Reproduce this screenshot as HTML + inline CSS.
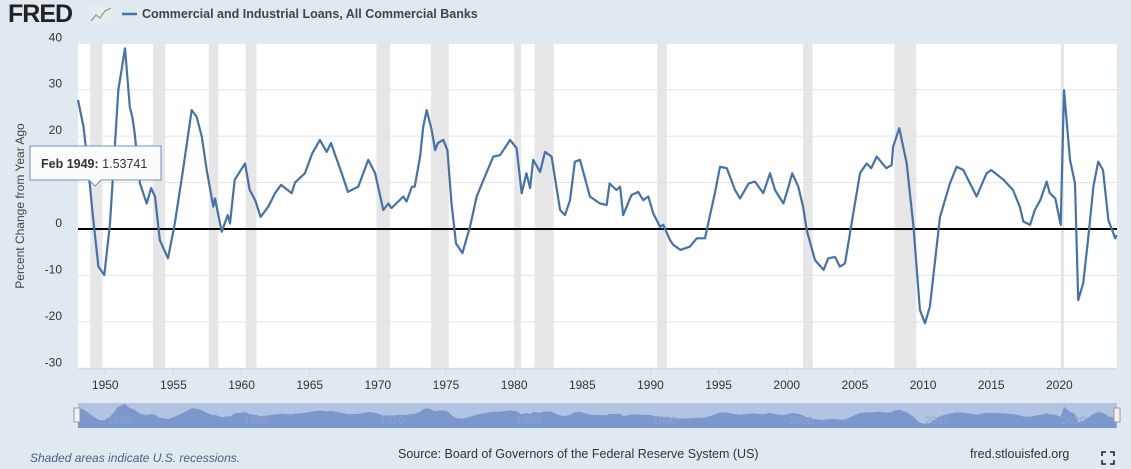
<!DOCTYPE html>
<html><head><meta charset="utf-8">
<style>
html,body{margin:0;padding:0;}
body{width:1131px;height:469px;background:#e1e9f0;font-family:"Liberation Sans",sans-serif;position:relative;overflow:hidden;}
svg{position:absolute;left:0;top:0;}
</style></head><body>
<svg width="1131" height="469" xmlns="http://www.w3.org/2000/svg">
  <g>
    <text x="8" y="22" font-size="25" font-weight="bold" fill="#222" font-family="Liberation Sans, sans-serif" letter-spacing="-1">FRED</text>
    <rect x="89" y="6" width="24" height="17" fill="#e9ecef"/>
    <polyline points="91,21 96,15 100,18 105,11 111,8" fill="none" stroke="#8fb08a" stroke-width="1.5"/>
    <line x1="122" y1="14" x2="137" y2="14" stroke="#4572a7" stroke-width="2.5"/>
    <text x="142" y="18" font-size="12.5" font-weight="bold" fill="#444">Commercial and Industrial Loans, All Commercial Banks</text>
  </g>
  <rect x="78" y="43" width="1039" height="326" fill="#ffffff"/>
  <g id="rec"></g>
  <g id="grid"></g>
  <g id="yt"></g>
  <g id="xt"></g>
  <text transform="translate(24,206) rotate(-90)" text-anchor="middle" font-size="12" fill="#444">Percent Change from Year Ago</text>
  <line x1="78" y1="229" x2="1117" y2="229" stroke="#000" stroke-width="2"/>
  <path id="series" fill="none" stroke="#4572a7" stroke-width="2.2" stroke-linejoin="round"/>
  <g>
    <rect x="78" y="403" width="1039" height="25" fill="#b3c4e3"/>
    <path id="navArea" fill="#7b98cc"/>
    <g id="navLbl"></g>
    <rect x="74" y="408" width="6" height="14" fill="#f2f2f2" stroke="#999"/>
    <rect x="1114" y="408" width="6" height="14" fill="#f2f2f2" stroke="#999"/>
  </g>
  <g>
    <path d="M30,146 H161 V180 H101 L95,186 L89,180 H30 Z" fill="#fafcfe" stroke="#6d8fc0" stroke-width="1"/>
    <text x="41" y="168" font-size="12.5" fill="#333"><tspan font-weight="bold">Feb 1949:</tspan> 1.53741</text>
  </g>
  <text x="30" y="462" font-size="12" font-style="italic" fill="#4a5f80">Shaded areas indicate U.S. recessions.</text>
  <text x="398" y="458" font-size="12.5" fill="#333">Source: Board of Governors of the Federal Reserve System (US)</text>
  <text x="970" y="458" font-size="12.5" fill="#333">fred.stlouisfed.org</text>
  <g stroke="#222" stroke-width="1.6" fill="none">
    <path d="M1102,456 V452 H1106 M1110,452 H1114 V456 M1114,460 V464 H1110 M1106,464 H1102 V460"/>
  </g>
</svg>
<script>
const years=[1948.0,1948.4,1948.76,1949.1,1949.5,1949.93,1950.35,1950.7,1950.96,1951.45,1951.8,1951.98,1952.13,1952.55,1953.04,1953.36,1953.65,1954.0,1954.6,1955.1,1955.7,1956.34,1956.7,1957.08,1957.44,1957.93,1958.05,1958.54,1958.98,1959.15,1959.5,1960.25,1960.6,1961.0,1961.4,1961.96,1962.45,1962.9,1963.68,1963.92,1964.65,1965.19,1965.75,1966.25,1966.56,1967.35,1967.8,1968.56,1969.3,1969.8,1970.4,1970.77,1971.0,1971.87,1972.1,1972.5,1972.7,1973.1,1973.33,1973.58,1973.95,1974.2,1974.4,1974.8,1975.1,1975.4,1975.73,1976.2,1976.76,1977.25,1977.7,1978.47,1978.96,1979.7,1980.18,1980.55,1980.9,1981.17,1981.4,1981.9,1982.26,1982.75,1983.37,1983.73,1984.1,1984.46,1984.83,1985.56,1986.3,1986.79,1987.0,1987.5,1987.77,1988.0,1988.6,1989.1,1989.47,1989.84,1990.2,1990.7,1990.94,1991.43,1991.67,1992.2,1992.9,1993.4,1994.0,1994.37,1994.73,1995.1,1995.6,1996.2,1996.57,1997.2,1997.67,1998.28,1998.77,1999.14,1999.75,2000.1,2000.4,2000.85,2001.2,2001.46,2002.07,2002.7,2003.05,2003.54,2003.9,2004.27,2004.76,2005.37,2005.86,2006.2,2006.6,2007.3,2007.7,2007.8,2008.26,2008.8,2009.3,2009.77,2010.14,2010.5,2011.24,2011.97,2012.46,2012.95,2013.93,2014.66,2015.0,2015.9,2016.6,2017.1,2017.36,2017.85,2018.2,2018.6,2019.07,2019.3,2019.7,2020.1,2020.34,2020.78,2021.15,2021.38,2021.75,2022.1,2022.5,2022.85,2023.2,2023.6,2024.1,2024.2];
const values=[27.8,22.0,12.7,2.6,-8.1,-9.9,1.2,17.7,29.9,38.9,26.3,24.2,21.3,9.8,5.5,8.8,7.0,-2.4,-6.3,1.2,12.7,25.6,24.2,19.9,12.7,4.8,6.6,-0.6,3.0,1.2,10.6,14.1,8.4,6.2,2.6,4.8,7.7,9.5,7.7,10.0,12.0,16.3,19.2,16.6,18.5,12.0,8.0,9.1,14.9,12.0,4.1,5.5,4.5,7.0,5.9,9.1,9.1,15.6,22.0,25.6,21.3,17.0,18.5,19.2,17.0,5.5,-3.1,-5.2,0.5,7.0,10.2,15.6,15.9,19.2,17.4,7.7,12.0,8.8,14.9,12.3,16.6,15.6,4.1,3.0,6.2,14.5,14.9,7.0,5.5,5.2,9.8,8.4,9.1,3.0,7.3,8.0,6.2,7.0,3.4,0.5,0.9,-2.4,-3.4,-4.5,-3.8,-2.0,-2.0,3.0,7.7,13.4,13.1,8.4,6.6,9.8,10.2,7.7,12.0,8.4,5.5,8.8,12.0,9.1,4.8,-0.2,-6.7,-8.8,-6.3,-6.0,-8.1,-7.4,1.2,12.0,14.1,13.1,15.6,13.1,13.8,17.7,21.7,14.1,0.5,-17.4,-20.3,-16.7,2.6,9.8,13.4,12.7,7.0,12.0,12.7,10.6,8.4,4.8,1.6,0.9,4.1,6.2,10.2,7.7,6.6,0.9,29.9,14.9,9.8,-15.3,-11.7,-2.4,9.1,14.5,12.7,1.9,-2.0,-1.3];
const yTicks=[40,30,20,10,0,-10,-20,-30];
const xTicks=[1950,1955,1960,1965,1970,1975,1980,1985,1990,1995,2000,2005,2010,2015,2020];
const recStart=[1948.9,1953.5,1957.6,1960.3,1969.9,1973.9,1980.0,1981.5,1990.5,2001.2,2007.9,2020.1];
const recEnd=[1949.8,1954.4,1958.3,1961.1,1970.9,1975.2,1980.5,1982.9,1991.2,2001.9,2009.5,2020.35];
const navLabels=[1950,1960,1970,1980,1990,2000,2010,2020];

const NS="http://www.w3.org/2000/svg";
function X(t){return 78+(t-1948)*13.63;}
function Y(v){return 229-v*4.643;}
function NY(v){return 417-v*0.34;}
function mk(tag,attrs,parent){const e=document.createElementNS(NS,tag);for(const k in attrs)e.setAttribute(k,attrs[k]);parent.appendChild(e);return e;}

const rec=document.getElementById('rec');
recStart.forEach((s,i)=>{
  const r=mk('rect',{x:X(s),y:43,width:X(recEnd[i])-X(s),height:326,fill:'#e6e6e6'},rec);
  
  
});
const grid=document.getElementById('grid'),yt=document.getElementById('yt');
yTicks.forEach(v=>{
  const l=mk('line',{x1:78,x2:1117,y1:Y(v),y2:Y(v),stroke:'#e3e3e3','stroke-width':1},grid);
  
  
  const t=mk('text',{x:62,y:Y(v)-2,'text-anchor':'end','font-size':12,fill:'#333'},yt);
  t.textContent=v;
  
  
});
const xt=document.getElementById('xt');
mk('line',{x1:78,x2:1117,y1:369,y2:369,stroke:'#ccd6eb','stroke-width':1},xt);
xTicks.forEach(y=>{
  const l=mk('line',{x1:X(y),x2:X(y),y1:369,y2:375,stroke:'#ccd6eb'},xt);
  
  
  const t=mk('text',{x:X(y),y:389,'text-anchor':'middle','font-size':12,fill:'#333'},xt);
  t.textContent=y;
  
  
});
let d='';
years.forEach((t,i)=>{d+=(i?'L':'M')+X(t).toFixed(1)+','+Y(values[i]).toFixed(1);});
document.getElementById('series').setAttribute('d',d);
let nd='M'+X(years[0]).toFixed(1)+',428';
years.forEach((t,i)=>{nd+='L'+X(t).toFixed(1)+','+NY(values[i]).toFixed(1);});
nd+='L'+X(years[years.length-1]).toFixed(1)+',428Z';
document.getElementById('navArea').setAttribute('d',nd);
const nl=document.getElementById('navLbl');
navLabels.forEach(y=>{
  const t=mk('text',{x:X(y)+2,y:424,'font-size':11,fill:'#8ea3c8'},nl);
  t.textContent=y;
  
  
});
</script>
</body></html>
